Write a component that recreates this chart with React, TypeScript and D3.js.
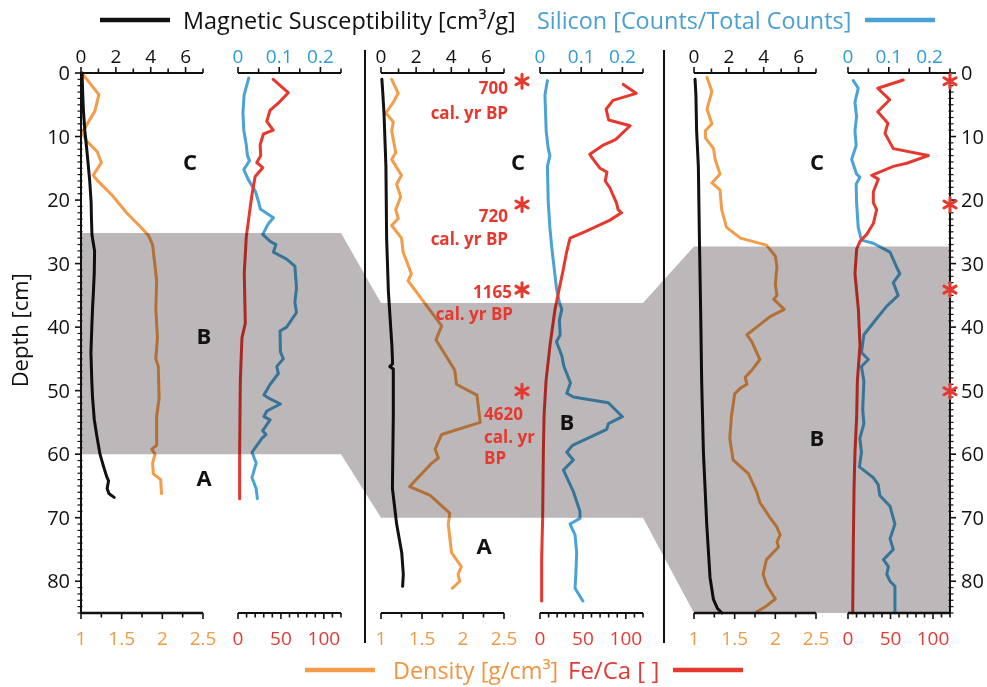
import React from "react";
import * as d3 from "d3";

// ---------- data: [depth (cm), value] ----------
const core1MagSus: [number, number][] = [
  [0, 0.06], [3.4, 0.1], [6, 0.14], [9, 0.22], [12, 0.33], [14.6, 0.42], [17, 0.5], [20.3, 0.58],
  [23, 0.6], [25.5, 0.63], [28, 0.78], [31.5, 0.76], [34, 0.72], [37.2, 0.66], [40, 0.62], [44, 0.57],
  [48.5, 0.62], [51, 0.66], [54.5, 0.76], [57, 0.9], [60, 1.09], [62, 1.3], [63.5, 1.47], [64.2, 1.58],
  [65.4, 1.5], [66.2, 1.6], [66.8, 1.9],
];
const core1Density: [number, number][] = [
  [0, 1.01], [3.4, 1.22], [6, 1.17], [9, 1.03], [9.3, 1.01], [10.7, 1.07], [12.4, 1.2], [14.1, 1.25],
  [16.1, 1.15], [16.9, 1.2], [19.2, 1.38], [22, 1.56], [24.2, 1.73], [25.6, 1.83], [27, 1.88], [30.4, 1.91],
  [32.7, 1.93], [37.2, 1.92], [41.7, 1.94], [45, 1.92], [46.2, 1.95], [51.3, 1.96], [54, 1.93], [58.6, 1.93],
  [59.2, 1.87], [60, 1.91], [61.4, 1.88], [63.1, 1.89], [64, 1.98], [66.2, 1.99],
];
const core1Silicon: [number, number][] = [
  [0.8, 0.026], [3.4, 0.015], [6.2, 0.012], [9, 0.014], [11.3, 0.02], [13, 0.023], [13.8, 0.028], [14.4, 0.022],
  [15.2, 0.014], [16.9, 0.026], [18.6, 0.042], [20.3, 0.05], [21.4, 0.054], [22.8, 0.086], [23.7, 0.074],
  [25.4, 0.06], [26.5, 0.078], [27, 0.092], [28.2, 0.086], [29.3, 0.118], [30.4, 0.138], [33.8, 0.142],
  [36.1, 0.138], [37.7, 0.142], [40, 0.118], [40.6, 0.102], [43.9, 0.103], [45, 0.11], [46.2, 0.094],
  [47.3, 0.098], [49, 0.078], [50.7, 0.063], [51.3, 0.078], [52.1, 0.103], [53.2, 0.07], [54.1, 0.063],
  [54.6, 0.078], [56.3, 0.06], [56.9, 0.068], [57.5, 0.058], [58.6, 0.046], [59.7, 0.034], [61.4, 0.044],
  [63.7, 0.034], [65.4, 0.044], [67, 0.047],
];
const core1FeCa: [number, number][] = [
  [1, 41], [3.1, 58.5], [4.5, 48.8], [5.9, 37.3], [7.6, 33.5], [9, 41], [9.6, 29.6], [11.3, 25.8], [13, 26.5],
  [14.1, 21.9], [14.9, 28.8], [16.3, 20], [19.2, 16.2], [23.1, 12.3], [25.9, 9.6], [31.5, 7.3], [39.4, 8.5],
  [41.7, 4.6], [48.5, 2.7], [59.7, 1.9], [67, 1.9],
];

const core2MagSus: [number, number][] = [
  [1, 0.05], [2.6, 0.09], [6.3, 0.17], [14.7, 0.28], [26, 0.32], [34.4, 0.42], [42.9, 0.62], [45.8, 0.66],
  [46.2, 0.5], [46.6, 0.7], [54, 0.7], [65.4, 0.65], [71, 0.89], [75.5, 1.18], [78.9, 1.27], [80.8, 1.23],
];
const core2Density: [number, number][] = [
  [1, 1.13], [3.2, 1.21], [4.6, 1.15], [6.3, 1.06], [7.7, 1.15], [9.1, 1.13], [12.5, 1.18], [13.6, 1.13],
  [16.1, 1.25], [17.5, 1.19], [19.5, 1.24], [21.5, 1.18], [22.9, 1.21], [24, 1.13], [26, 1.25], [28.2, 1.27],
  [31.6, 1.37], [32.7, 1.33], [36.7, 1.56], [39.8, 1.74], [42, 1.67], [46.8, 1.9], [49, 1.92], [50.7, 2.17],
  [55, 2.21], [56.9, 1.74], [59.2, 1.66], [60.6, 1.7], [61.4, 1.62], [65.1, 1.35], [66.5, 1.6], [69.3, 1.84],
  [71, 1.82], [75.5, 1.86], [76.6, 1.92], [77.7, 1.98], [78.9, 1.94], [80, 1.96], [81.1, 1.87],
];
const core2Silicon: [number, number][] = [
  [1.2, 0.018], [3.5, 0.012], [9.1, 0.015], [11.9, 0.02], [13, 0.024], [14.7, 0.018], [20.4, 0.02],
  [24.3, 0.024], [27.1, 0.028], [29.4, 0.032], [31.6, 0.036], [33.9, 0.04], [36.1, 0.047], [37.2, 0.053],
  [38.9, 0.047], [41.2, 0.049], [42.3, 0.04], [44.5, 0.053], [46.2, 0.058], [48.8, 0.074], [50.4, 0.065],
  [51, 0.081], [51.9, 0.166], [54.1, 0.2], [55.2, 0.166], [56.1, 0.162], [58.6, 0.079], [59.7, 0.065],
  [60.9, 0.081], [62.5, 0.057], [65.9, 0.081], [69, 0.097], [70.1, 0.097], [71, 0.073], [72.7, 0.085],
  [75.5, 0.089], [78.9, 0.087], [81.1, 0.085], [83.1, 0.104],
];
const core2FeCa: [number, number][] = [
  [1.8, 97], [3.2, 112], [4.3, 85], [5.7, 77], [7.4, 80], [8.3, 105], [10.5, 88], [11.4, 73], [12.8, 58],
  [13.6, 62], [15, 70], [15.6, 78], [17, 76], [18.1, 81.5], [19.2, 85], [20.4, 89], [21.5, 91], [22, 95],
  [23.2, 81], [24.9, 54], [26, 35], [28.2, 31], [31, 27], [33.9, 22.5], [37.2, 17.5], [42.9, 11.6],
  [48.5, 7], [54.1, 4.7], [59.7, 3.9], [69.9, 3.1], [76.6, 1.9], [83.1, 1.9],
];

const core3MagSus: [number, number][] = [
  [1, 0.06], [3.5, 0.11], [9.1, 0.15], [14.7, 0.25], [26, 0.31], [37.2, 0.38], [48.5, 0.44], [59.7, 0.54],
  [71, 0.73], [79.4, 0.92], [82.8, 1.11], [84.3, 1.35], [85, 1.6],
];
const core3Density: [number, number][] = [
  [0.7, 1.16], [2.9, 1.22], [5.7, 1.16], [8, 1.22], [9.1, 1.14], [10.2, 1.14], [11.9, 1.24], [13.6, 1.26],
  [15.9, 1.32], [17.3, 1.22], [18.4, 1.32], [21.5, 1.34], [24.3, 1.4], [26, 1.57], [27.1, 1.89], [28.8, 2.0],
  [30.5, 2.02], [33.3, 2.0], [35, 2.02], [35.6, 1.98], [37.2, 2.11], [38.4, 1.93], [39.8, 1.79], [41.2, 1.65],
  [42.3, 1.71], [45.1, 1.81], [46.8, 1.71], [47.9, 1.63], [49, 1.65], [49.6, 1.57], [50.5, 1.5], [54.1, 1.46],
  [57.5, 1.44], [60.9, 1.48], [63.1, 1.67], [65.9, 1.77], [67.6, 1.81], [69.9, 1.93], [71.5, 2.02],
  [72.7, 2.06], [73.8, 2.02], [74.6, 2.04], [76.6, 1.89], [78.9, 1.85], [80.5, 1.89], [82.8, 2.0],
  [83.9, 1.89], [85, 1.75],
];
const core3Silicon: [number, number][] = [
  [1.2, 0.013], [2.4, 0.025], [4.6, 0.017], [6.9, 0.021], [9.1, 0.017], [11.4, 0.02], [13.6, 0.009],
  [15.9, 0.021], [16.4, 0.029], [17.5, 0.02], [20.4, 0.021], [24.3, 0.025], [26.3, 0.033], [26.8, 0.062],
  [28.2, 0.103], [30.5, 0.119], [31.6, 0.127], [33, 0.111], [35, 0.123], [36.7, 0.095], [39, 0.066],
  [41.2, 0.039], [44, 0.033], [45.1, 0.05], [46.2, 0.033], [48.5, 0.039], [53, 0.036], [55.2, 0.039],
  [57.5, 0.029], [59.7, 0.033], [62, 0.028], [63.7, 0.062], [64.8, 0.074], [66.5, 0.078], [68.2, 0.103],
  [71, 0.115], [73.3, 0.103], [75, 0.111], [76.6, 0.087], [77.7, 0.099], [78.9, 0.095], [80, 0.103],
  [80.8, 0.115], [85, 0.115],
];
const core3FeCa: [number, number][] = [
  [1.1, 65], [2.4, 35], [4.2, 49], [6.1, 35], [7.9, 47], [9.5, 43.5], [11.9, 53.3], [13, 94.5], [14.2, 69],
  [14.7, 53.3], [16.1, 27.8], [16.7, 35.7], [18.7, 29.8], [20.4, 29.8], [21.5, 33.7], [23.7, 29.8],
  [25.4, 22], [26.5, 14.1], [27.7, 10.2], [31.6, 8.2], [37.2, 12.2], [42.9, 14.1], [48.5, 11], [54.1, 10.2],
  [59.7, 8.2], [65.4, 7.1], [73.8, 6.3], [85, 5.5],
];

// unit boundaries (top, bottom depth of unit B) for each core
const unitBDepths: [number, number][] = [[25.2, 60], [36.2, 70], [27.3, 85]];

// radiocarbon sample depths and ages
const dateDepths = [1.3, 20.7, 34.1, 50.1];
const dateAges = ["700", "720", "1165", "4620"];

// axis ticks
const magTicks = d3.range(0, 8, 1);
const magLabels = [0, 2, 4, 6];
const siTicks = [0, 0.05, 0.1, 0.15, 0.2, 0.25];
const siLabels = ["0", "0.1", "0.2"];
const siLabelValues = [0, 0.1, 0.2];
const densTicks = [1, 1.25, 1.5, 1.75, 2, 2.25, 2.5];
const densLabels = ["1", "1.5", "2", "2.5"];
const densLabelValues = [1, 1.5, 2, 2.5];
const feTicks = d3.range(0, 121, 10);
const feLabels = [0, 50, 100];
const depthTicks = d3.range(0, 86, 1);
const depthLabels = d3.range(0, 81, 10);

// ---------- styling ----------
const FONT = "'Open Sans', 'Noto Sans', sans-serif";
const C_BLACK = "#111111";
const C_ORANGE = "#f39c4a";
const C_RED = "#e5392f";
const C_BLUE = "#4aa2d6";
const C_BAND = "#bcb7b8";

const Y0 = 73;
const Y1 = 613;
const y = d3.scaleLinear().domain([0, 85]).range([Y0, Y1]);

const panels = [
  { magX: [81, 203], chemX: [238, 341], mag: core1MagSus, dens: core1Density, si: core1Silicon, fe: core1FeCa },
  { magX: [381, 504], chemX: [540, 643], mag: core2MagSus, dens: core2Density, si: core2Silicon, fe: core2FeCa },
  { magX: [694, 816], chemX: [848, 950], mag: core3MagSus, dens: core3Density, si: core3Silicon, fe: core3FeCa },
];

function Asterisk({ cx, cy, r = 7 }: { cx: number; cy: number; r?: number }) {
  const a = Math.cos(Math.PI / 6) * r;
  const b = Math.sin(Math.PI / 6) * r;
  const d = `M${cx},${cy - r}L${cx},${cy + r}M${cx - a},${cy - b}L${cx + a},${cy + b}M${cx - a},${cy + b}L${cx + a},${cy - b}`;
  return <path d={d} stroke={C_RED} strokeWidth={3} strokeLinecap="round" fill="none" />;
}

function TopAxis({ scale, ticks, labels, labelText, color }: any) {
  const [r0, r1] = scale.range();
  return (
    <g>
      <line x1={r0} x2={r1} y1={Y0} y2={Y0} stroke={C_BLACK} strokeWidth={2} />
      {ticks.map((t: number, i: number) => {
        const major = labels.some((l: number) => Math.abs(l - t) < 1e-9);
        return <line key={i} x1={scale(t)} x2={scale(t)} y1={Y0} y2={Y0 - (major ? 6 : 4.5)} stroke={C_BLACK} strokeWidth={1.6} />;
      })}
      {labels.map((l: number, i: number) => (
        <text key={i} x={scale(l)} y={Y0 - 10} textAnchor="middle" fontSize={19} fill={color} fontFamily={FONT}>
          {labelText ? labelText[i] : String(l)}
        </text>
      ))}
    </g>
  );
}

function BottomAxis({ scale, ticks, labels, labelText, color, width = 2 }: any) {
  const [r0, r1] = scale.range();
  return (
    <g>
      <line x1={r0} x2={r1} y1={Y1} y2={Y1} stroke={C_BLACK} strokeWidth={width} />
      {ticks.map((t: number, i: number) => {
        const major = labels.some((l: number) => Math.abs(l - t) < 1e-9);
        return <line key={i} x1={scale(t)} x2={scale(t)} y1={Y1} y2={Y1 + (major ? 6 : 4.5)} stroke={C_BLACK} strokeWidth={1.6} />;
      })}
      {labels.map((l: number, i: number) => (
        <text key={i} x={scale(l)} y={Y1 + 32} textAnchor="middle" fontSize={19} fill={color} fontFamily={FONT}>
          {labelText ? labelText[i] : String(l)}
        </text>
      ))}
    </g>
  );
}

function DepthAxis({ x, side }: { x: number; side: "left" | "right" }) {
  const s = side === "left" ? -1 : 1;
  return (
    <g>
      <line x1={x} x2={x} y1={Y0} y2={Y1} stroke={C_BLACK} strokeWidth={2} />
      {depthTicks.map((t) => {
        const major = t % 10 === 0;
        return (
          <line key={t} x1={x - s * (major ? 0 : 1.5)} x2={x + s * (major ? 6 : 3.5)} y1={y(t)} y2={y(t)}
            stroke={C_BLACK} strokeWidth={major ? 1.6 : 1.2} />
        );
      })}
      {depthLabels.map((t) => (
        <text key={t} x={side === "left" ? x - 11 : x + 11} y={y(t)} dy="0.36em"
          textAnchor={side === "left" ? "end" : "start"} fontSize={20} fill={C_BLACK} fontFamily={FONT}>
          {t}
        </text>
      ))}
    </g>
  );
}

export default function App() {
  const line = (xs: d3.ScaleLinear<number, number>) =>
    d3.line<[number, number]>().x((d) => xs(d[1])).y((d) => y(d[0]));

  const scales = panels.map((p) => ({
    mag: d3.scaleLinear().domain([0, 7]).range(p.magX),
    dens: d3.scaleLinear().domain([1, 2.5]).range(p.magX),
    si: d3.scaleLinear().domain([0, 0.25]).range(p.chemX),
    fe: d3.scaleLinear().domain([0, 120]).range(p.chemX),
  }));

  // shaded unit-B band linking the three cores
  const top = panels.map((p, i) => [p.magX[0], p.chemX[1], y(unitBDepths[i][0])]);
  const bot = panels.map((p, i) => [p.magX[0], p.chemX[1], y(unitBDepths[i][1])]);
  const bandPts: [number, number][] = [];
  top.forEach(([l, r, yy]) => { bandPts.push([l, yy], [r, yy]); });
  [...bot].reverse().forEach(([l, r, yy]) => { bandPts.push([r, yy], [l, yy]); });
  const bandPath = d3.line()(bandPts) + "Z";

  const curveStyle = { fill: "none", strokeWidth: 3, strokeLinejoin: "round" as const, strokeLinecap: "round" as const };

  const dateX = 522;

  return (
    <svg width={987} height={687} style={{ position: "absolute", left: 0, top: 0, display: "block" }} fontFamily={FONT}>
      <rect x={0} y={0} width={987} height={687} fill="#ffffff" />

      {/* core separators */}
      <line x1={365} x2={365} y1={50} y2={643} stroke={C_BLACK} strokeWidth={2} />
      <line x1={664} x2={664} y1={50} y2={643} stroke={C_BLACK} strokeWidth={2} />

      {/* data curves */}
      {panels.map((p, i) => (
        <g key={i}>
          <path d={line(scales[i].dens)(p.dens) || ""} stroke={C_ORANGE} {...curveStyle} />
          <path d={line(scales[i].mag)(p.mag) || ""} stroke={C_BLACK} {...curveStyle} />
          <path d={line(scales[i].si)(p.si) || ""} stroke={C_BLUE} {...curveStyle} />
          <path d={line(scales[i].fe)(p.fe) || ""} stroke={C_RED} {...curveStyle} />
        </g>
      ))}

      {/* unit B band */}
      <path d={bandPath} fill={C_BAND} style={{ mixBlendMode: "multiply" }} />

      {/* axes */}
      {panels.map((p, i) => (
        <g key={i}>
          <TopAxis scale={scales[i].mag} ticks={magTicks} labels={magLabels} color={C_BLACK} />
          <TopAxis scale={scales[i].si} ticks={siTicks} labels={siLabelValues} labelText={siLabels} color="#2f9bd6" />
          <BottomAxis scale={scales[i].dens} ticks={densTicks} labels={densLabelValues} labelText={densLabels} color="#f19a45"
            width={i === 1 ? 2 : 2.6} />
          <BottomAxis scale={scales[i].fe} ticks={feTicks} labels={feLabels} color="#e23a34" width={i === 2 ? 2.6 : 2} />
        </g>
      ))}
      <DepthAxis x={81} side="left" />
      <DepthAxis x={950} side="right" />

      <text transform={`translate(28,${y(40.5)}) rotate(-90)`} textAnchor="middle" fontSize={22} fill={C_BLACK}>
        Depth [cm]
      </text>

      {/* unit letters */}
      {[
        ["C", 190, 14], ["B", 204, 41.4], ["A", 204, 63.7],
        ["C", 518, 14], ["B", 567, 54.9], ["A", 484, 74.5],
        ["C", 817, 14], ["B", 817, 57.5],
      ].map(([t, x, d], i) => (
        <text key={i} x={x as number} y={y(d as number)} dy="0.36em" textAnchor="middle" fontSize={22} fontWeight={700} fill={C_BLACK}>
          {t}
        </text>
      ))}

      {/* radiocarbon ages */}
      {dateDepths.map((d, i) => <Asterisk key={"a" + i} cx={dateX} cy={y(d)} />)}
      {dateDepths.map((d, i) => <Asterisk key={"b" + i} cx={950} cy={y(d)} />)}
      <g fill={C_RED} fontWeight={700} fontSize={17}>
        <text x={508} y={y(dateDepths[0]) + 13} textAnchor="end">{dateAges[0]}</text>
        <text x={508} y={y(dateDepths[0]) + 38} textAnchor="end">cal. yr BP</text>
        <text x={508} y={y(dateDepths[1]) + 17} textAnchor="end">{dateAges[1]}</text>
        <text x={508} y={y(dateDepths[1]) + 40} textAnchor="end">cal. yr BP</text>
        <text x={512} y={y(dateDepths[2]) + 8} textAnchor="end">{dateAges[2]}</text>
        <text x={513} y={y(dateDepths[2]) + 30} textAnchor="end">cal. yr BP</text>
        <text x={484} y={y(dateDepths[3]) + 29} textAnchor="start">{dateAges[3]}</text>
        <text x={484} y={y(dateDepths[3]) + 52} textAnchor="start">cal. yr</text>
        <text x={484} y={y(dateDepths[3]) + 73} textAnchor="start">BP</text>
      </g>

      {/* legends */}
      <line x1={100} x2={170} y1={20} y2={20} stroke={C_BLACK} strokeWidth={4.5} />
      <text x={183} y={29} fontSize={23.4} fill={C_BLACK}>Magnetic Susceptibility [cm³/g]</text>
      <text x={537} y={29} fontSize={23.4} fill="#4a9fd2">Silicon [Counts/Total Counts]</text>
      <line x1={865} x2={935} y1={20} y2={20} stroke={C_BLUE} strokeWidth={4.5} />

      <line x1={305} x2={375} y1={670} y2={670} stroke={C_ORANGE} strokeWidth={4.5} />
      <text x={393} y={679} fontSize={23.4} fill="#ef9643">Density [g/cm³]</text>
      <text x={568} y={679} fontSize={24} fill="#e23a34">Fe/Ca [ ]</text>
      <line x1={673} x2={743} y1={670} y2={670} stroke={C_RED} strokeWidth={4.5} />
    </svg>
  );
}
